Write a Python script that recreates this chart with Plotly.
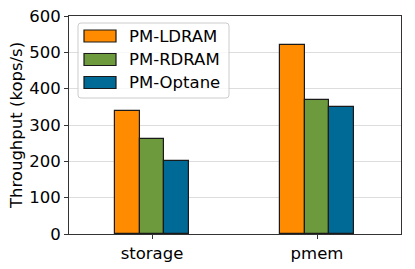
import plotly.graph_objects as go

categories = ["storage", "pmem"]
series_names = ["PM-LDRAM", "PM-RDRAM", "PM-Optane"]
ldram = [339, 520]
rdram = [262, 369]
optane = [202, 350]
y_ticks = [0, 100, 200, 300, 400, 500, 600]

colors = ["#ff8c00", "#6d9a3c", "#006a96"]
values = [ldram, rdram, optane]
offsets = [-0.225, -0.075, 0.075]

fig = go.Figure()
for name, vals, col, off in zip(series_names, values, colors, offsets):
    fig.add_trace(go.Bar(
        x=[i + off for i in range(len(categories))],
        y=vals, name=name, width=0.15, offset=0,
        marker=dict(color=col, line=dict(color="#1a1a1a", width=1.2)),
    ))

font = "DejaVu Sans"
fs = 16.5

# custom legend (matplotlib-like wide patches), positioned in paper coords
L, R, T, B = 69, 401, 16, 234
W, H = R - L, B - T
px = lambda x: (x - L) / W
py = lambda y: (B - y) / H

shapes = []
annotations = []
x0, x1, y0, y1 = px(78), px(229), py(98), py(23)
rx, ry = 3 / W, 3 / H
path = (f"M {x0+rx},{y1} L {x1-rx},{y1} Q {x1},{y1} {x1},{y1-ry} "
        f"L {x1},{y0+ry} Q {x1},{y0} {x1-rx},{y0} L {x0+rx},{y0} "
        f"Q {x0},{y0} {x0},{y0+ry} L {x0},{y1-ry} Q {x0},{y1} {x0+rx},{y1} Z")
shapes.append(dict(type="path", xref="paper", yref="paper", path=path,
                   fillcolor="rgba(255,255,255,0.8)", line=dict(color="#cccccc", width=1)))
row_y = [36, 59.5, 82.5]
for name, col, yc in zip(series_names, colors, row_y):
    shapes.append(dict(type="rect", xref="paper", yref="paper",
                       x0=px(84), x1=px(116), y0=py(yc + 6), y1=py(yc - 6),
                       fillcolor=col, line=dict(color="#1a1a1a", width=1.2)))
    annotations.append(dict(xref="paper", yref="paper", x=px(127), y=py(yc),
                            xanchor="left", yanchor="middle", text=name, showarrow=False,
                            font=dict(family=font, size=fs, color="black")))

fig.update_layout(
    width=415, height=269,
    margin=dict(l=69, r=14, t=16, b=35, autoexpand=False),
    paper_bgcolor="white", plot_bgcolor="white",
    font=dict(family=font, size=fs, color="black"),
    bargap=0,
    showlegend=False,
    shapes=shapes,
    annotations=annotations,
    xaxis=dict(
        range=[-0.503, 1.509], automargin=False,
        tickmode="array", tickvals=list(range(len(categories))), ticktext=categories,
        ticks="outside", ticklen=4, tickcolor="#333333",
        showline=True, linecolor="#333333", linewidth=1, mirror=True,
        showgrid=False, zeroline=False,
        tickfont=dict(family=font, size=fs),
    ),
    yaxis=dict(
        range=[0, 600], automargin=False,
        tickmode="array", tickvals=y_ticks,
        ticks="outside", ticklen=4, tickcolor="#333333",
        showline=True, linecolor="#333333", linewidth=1, mirror=True,
        showgrid=True, gridcolor="#dddddd", gridwidth=1, zeroline=False,
        title=dict(text="Throughput (kops/s)", font=dict(family=font, size=fs), standoff=2),
        tickfont=dict(family=font, size=fs),
    ),
)

fig.write_html("out.html", config={"displayModeBar": False},
               post_script="document.body.style.margin='0';")
